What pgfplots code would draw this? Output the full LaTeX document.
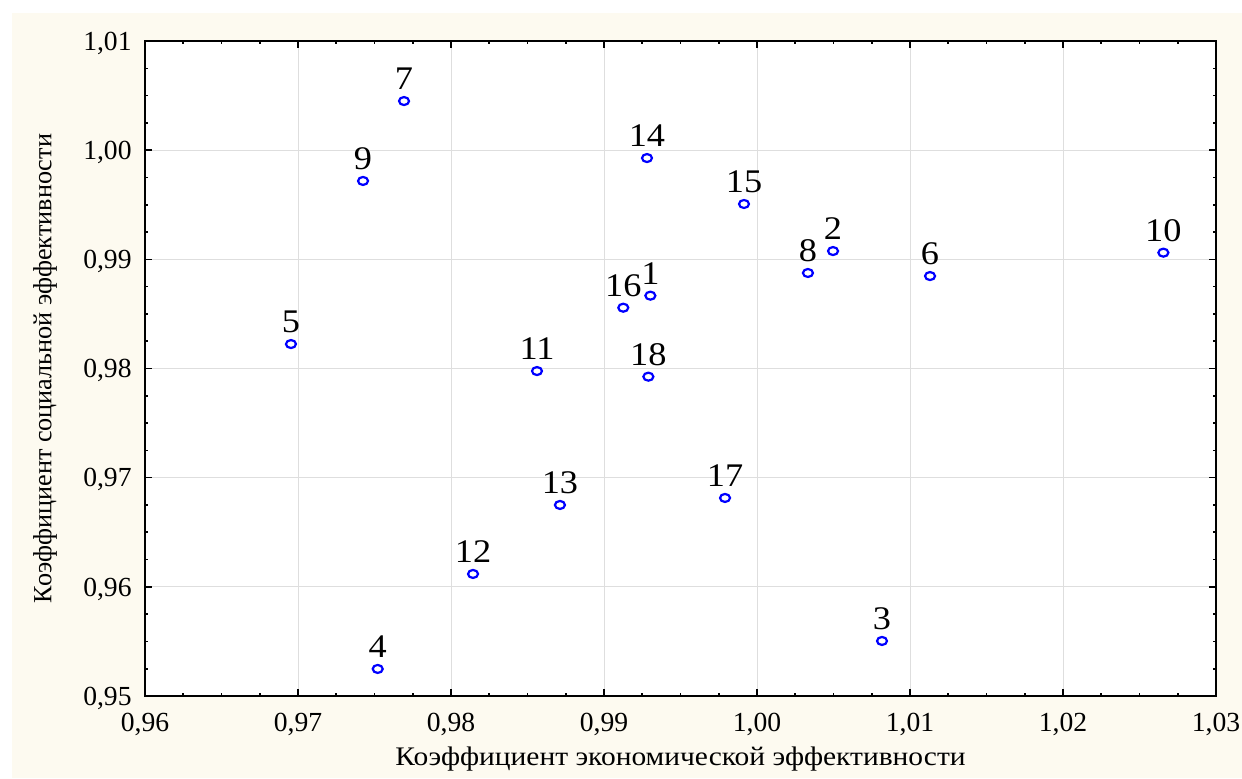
\documentclass[border=0pt]{standalone}
\usepackage{pgfplots}
\pgfplotsset{compat=1.18}
\usepackage{pgfplotstable}
\usepackage{fontspec}
\setmainfont{Liberation Serif}
\newfontfamily\widefont{Liberation Serif}[FakeStretch=1.1]
\definecolor{cream}{RGB}{253,250,240}
\definecolor{gridgray}{RGB}{222,222,222}
\pgfplotstableread{
x y lab
0.99303 0.98667 1
1.00497 0.99076 2
1.00817 0.95504 3
0.97521 0.95248 4
0.96954 0.98224 5
1.01131 0.98847 6
0.97693 1.00450 7
1.00333 0.98875 8
0.97425 0.99718 9
1.02656 0.99061 10
0.98562 0.97977 11
0.98144 0.96118 12
0.98712 0.96750 13
0.99281 0.99928 14
0.99915 0.99507 15
0.99126 0.98557 16
0.99791 0.96814 17
0.99290 0.97925 18
}\pts
\begin{document}
\begin{tikzpicture}
\fill[white] (0,0) rectangle (621pt,389pt);
\fill[cream] (6pt,0) rectangle (621pt,382.5pt);
\begin{axis}[
  at={(72.5pt,41pt)}, anchor=south west,
  scale only axis, width=535.5pt, height=327.5pt,
  xmin=0.96, xmax=1.03, ymin=0.95, ymax=1.01,
  xtick={0.96,0.97,0.98,0.99,1.00,1.01,1.02,1.03},
  ytick={0.95,0.96,0.97,0.98,0.99,1.00,1.01},
  minor tick num=3,
  tick align=inside,
  major tick length=3.5pt, minor tick length=1.6pt,
  every tick/.style={black, line width=0.8pt},
  axis line style={line width=1.2pt, black},
  axis background/.style={fill=white},
  grid=major,
  major grid style={line width=0.5pt, gridgray},
  /pgf/number format/.cd, use comma, fixed, fixed zerofill, precision=2, assume math mode=true,
  /pgfplots/.cd,
  ticklabel style={font=\fontsize{13.8}{15}\selectfont, inner sep=0pt},
  xticklabel style={anchor=north, yshift=-8.5pt},
  yticklabel style={anchor=base east, xshift=-6.5pt, yshift=-4.6pt},
  xlabel={Коэффициент экономической эффективности},
  ylabel={Коэффициент социальной эффективности},
  xlabel style={font=\widefont\fontsize{13.4}{15}\selectfont, at={(axis description cs:0.5,0)}, anchor=base, yshift=-34.5pt, inner sep=0pt},
  ylabel style={font=\fontsize{13.1}{15}\selectfont, at={(axis description cs:0,0.5)}, anchor=center, yshift=50pt, inner sep=0pt},
]
\addplot[only marks, blue, mark=o, mark size=2pt,
  mark options={xscale=1.25, line width=1.1pt},
  nodes near coords, point meta=explicit symbolic,
  every node near coord/.append style={text=black, anchor=base, yshift=5.6pt, inner sep=0pt, font=\widefont\fontsize{16.5}{17}\selectfont}]
  table[x=x, y=y, meta=lab]{\pts};
\end{axis}
\end{tikzpicture}
\end{document}
